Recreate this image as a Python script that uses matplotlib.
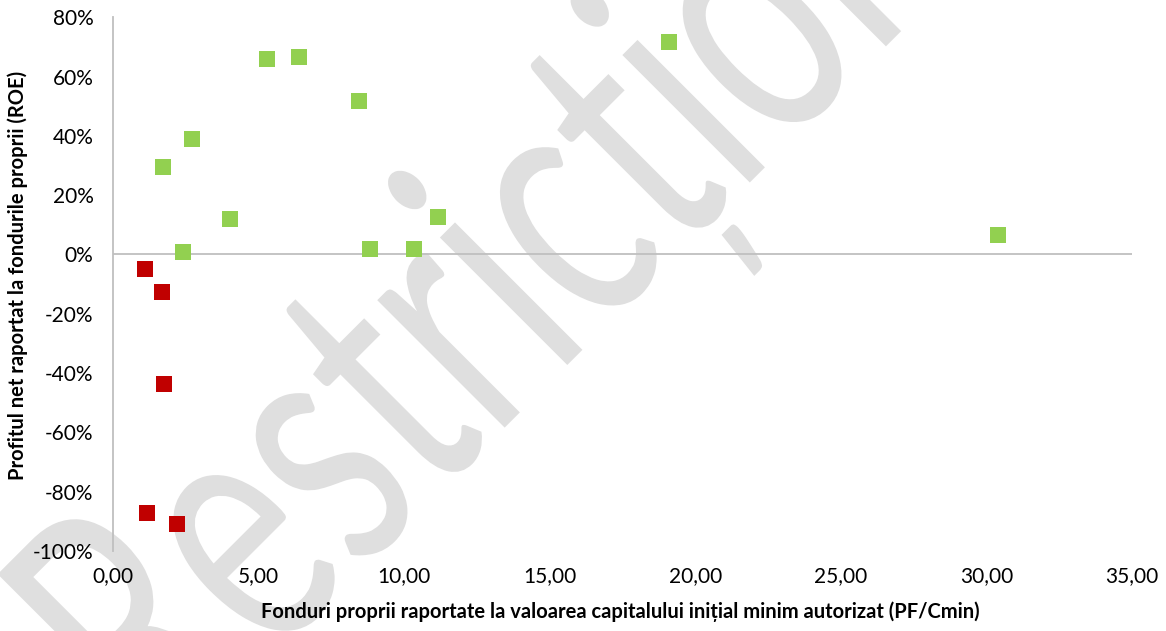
import matplotlib
matplotlib.use("Agg")
import matplotlib.pyplot as plt
from matplotlib.ticker import FuncFormatter
from matplotlib.textpath import TextPath
from matplotlib.font_manager import FontProperties
from matplotlib.patches import PathPatch
from matplotlib.transforms import Affine2D

# green series: positive ROE
green_x = [1.72, 2.71, 2.40, 4.02, 5.30, 6.39, 8.45, 8.83, 10.34, 11.16, 19.11, 30.40]
green_y = [29.4, 39.1, 0.9, 12.1, 66.1, 66.5, 51.7, 1.9, 1.9, 12.7, 71.6, 6.7]

# red series: negative ROE
red_x = [1.10, 1.68, 1.75, 1.17, 2.20]
red_y = [-4.8, -12.6, -43.7, -87.2, -91.0]

x_ticks = [0, 5, 10, 15, 20, 25, 30, 35]
y_ticks = [-100, -80, -60, -40, -20, 0, 20, 40, 60, 80]

watermark = "Restricționat"

plt.rcParams["font.family"] = ["Lato", "DejaVu Sans"]

fig = plt.figure(figsize=(11.66, 6.31), dpi=100)
ax = fig.add_axes([0.0969, 0.1268, 0.8739, 0.8458])

###watermark: condensed text, rotated 45 deg
fp = FontProperties(family="Lato", weight="normal")
def tw(s):
    return TextPath((0, 0), s, size=1, prop=fp).get_extents().x1

e_mid = (tw(watermark[:1]) + tw(watermark[:2])) / 2
o_mid = (tw(watermark[:9]) + tw(watermark[:10])) / 2
em_x = 718 / (o_mid - e_mid)
em_y = 180 / 0.506
A = Affine2D().scale(em_x, em_y).rotate_deg(45)
px, py = A.transform(((e_mid + o_mid) / 2, 0.253))
A = A.translate(500 - px, (631 - 305) - py)
tp = TextPath((0, 0), watermark, size=1, prop=fp)
wm = PathPatch(tp, facecolor="#dfdfdf", edgecolor="none", zorder=1, clip_on=False,
               transform=A + Affine2D().scale(1 / 100) + fig.dpi_scale_trans)
ax.add_artist(wm)

ax.scatter(green_x, green_y, marker="s", s=130, color="#92D050", linewidths=0, zorder=3)
ax.scatter(red_x, red_y, marker="s", s=130, color="#C00000", linewidths=0, zorder=3)

ax.axhline(0, color="#BFBFBF", linewidth=1.3, zorder=2)

ax.set_xlim(0, 35)
ax.set_ylim(-100, 80)
ax.set_xticks(x_ticks)
ax.set_yticks(y_ticks)
ax.xaxis.set_major_formatter(FuncFormatter(lambda v, p: f"{v:.2f}".replace(".", ",")))
ax.yaxis.set_major_formatter(FuncFormatter(lambda v, p: f"{v:.0f}%"))
ax.tick_params(axis="both", length=0, labelsize=15, colors="#000000")
ax.tick_params(axis="x", pad=11)
ax.tick_params(axis="y", pad=14)

for side in ["top", "right", "bottom"]:
    ax.spines[side].set_visible(False)
ax.spines["left"].set_color("#BFBFBF")
ax.spines["left"].set_linewidth(1.3)
ax.spines["left"].set_zorder(2)

ax.set_xlabel("Fonduri proprii raportate la valoarea capitalului inițial minim autorizat (PF/Cmin)",
              fontsize=14.5, fontweight="bold")
ax.set_ylabel("Profitul net raportat la fondurile proprii (ROE)",
              fontsize=14.5, fontweight="bold")
ax.xaxis.set_label_coords(0.4975, -0.114)
ax.xaxis.label.set_va("center")
ax.yaxis.set_label_coords(-0.0932, 0.517)
ax.yaxis.label.set_va("center")

fig.savefig("out.png", dpi=100)
